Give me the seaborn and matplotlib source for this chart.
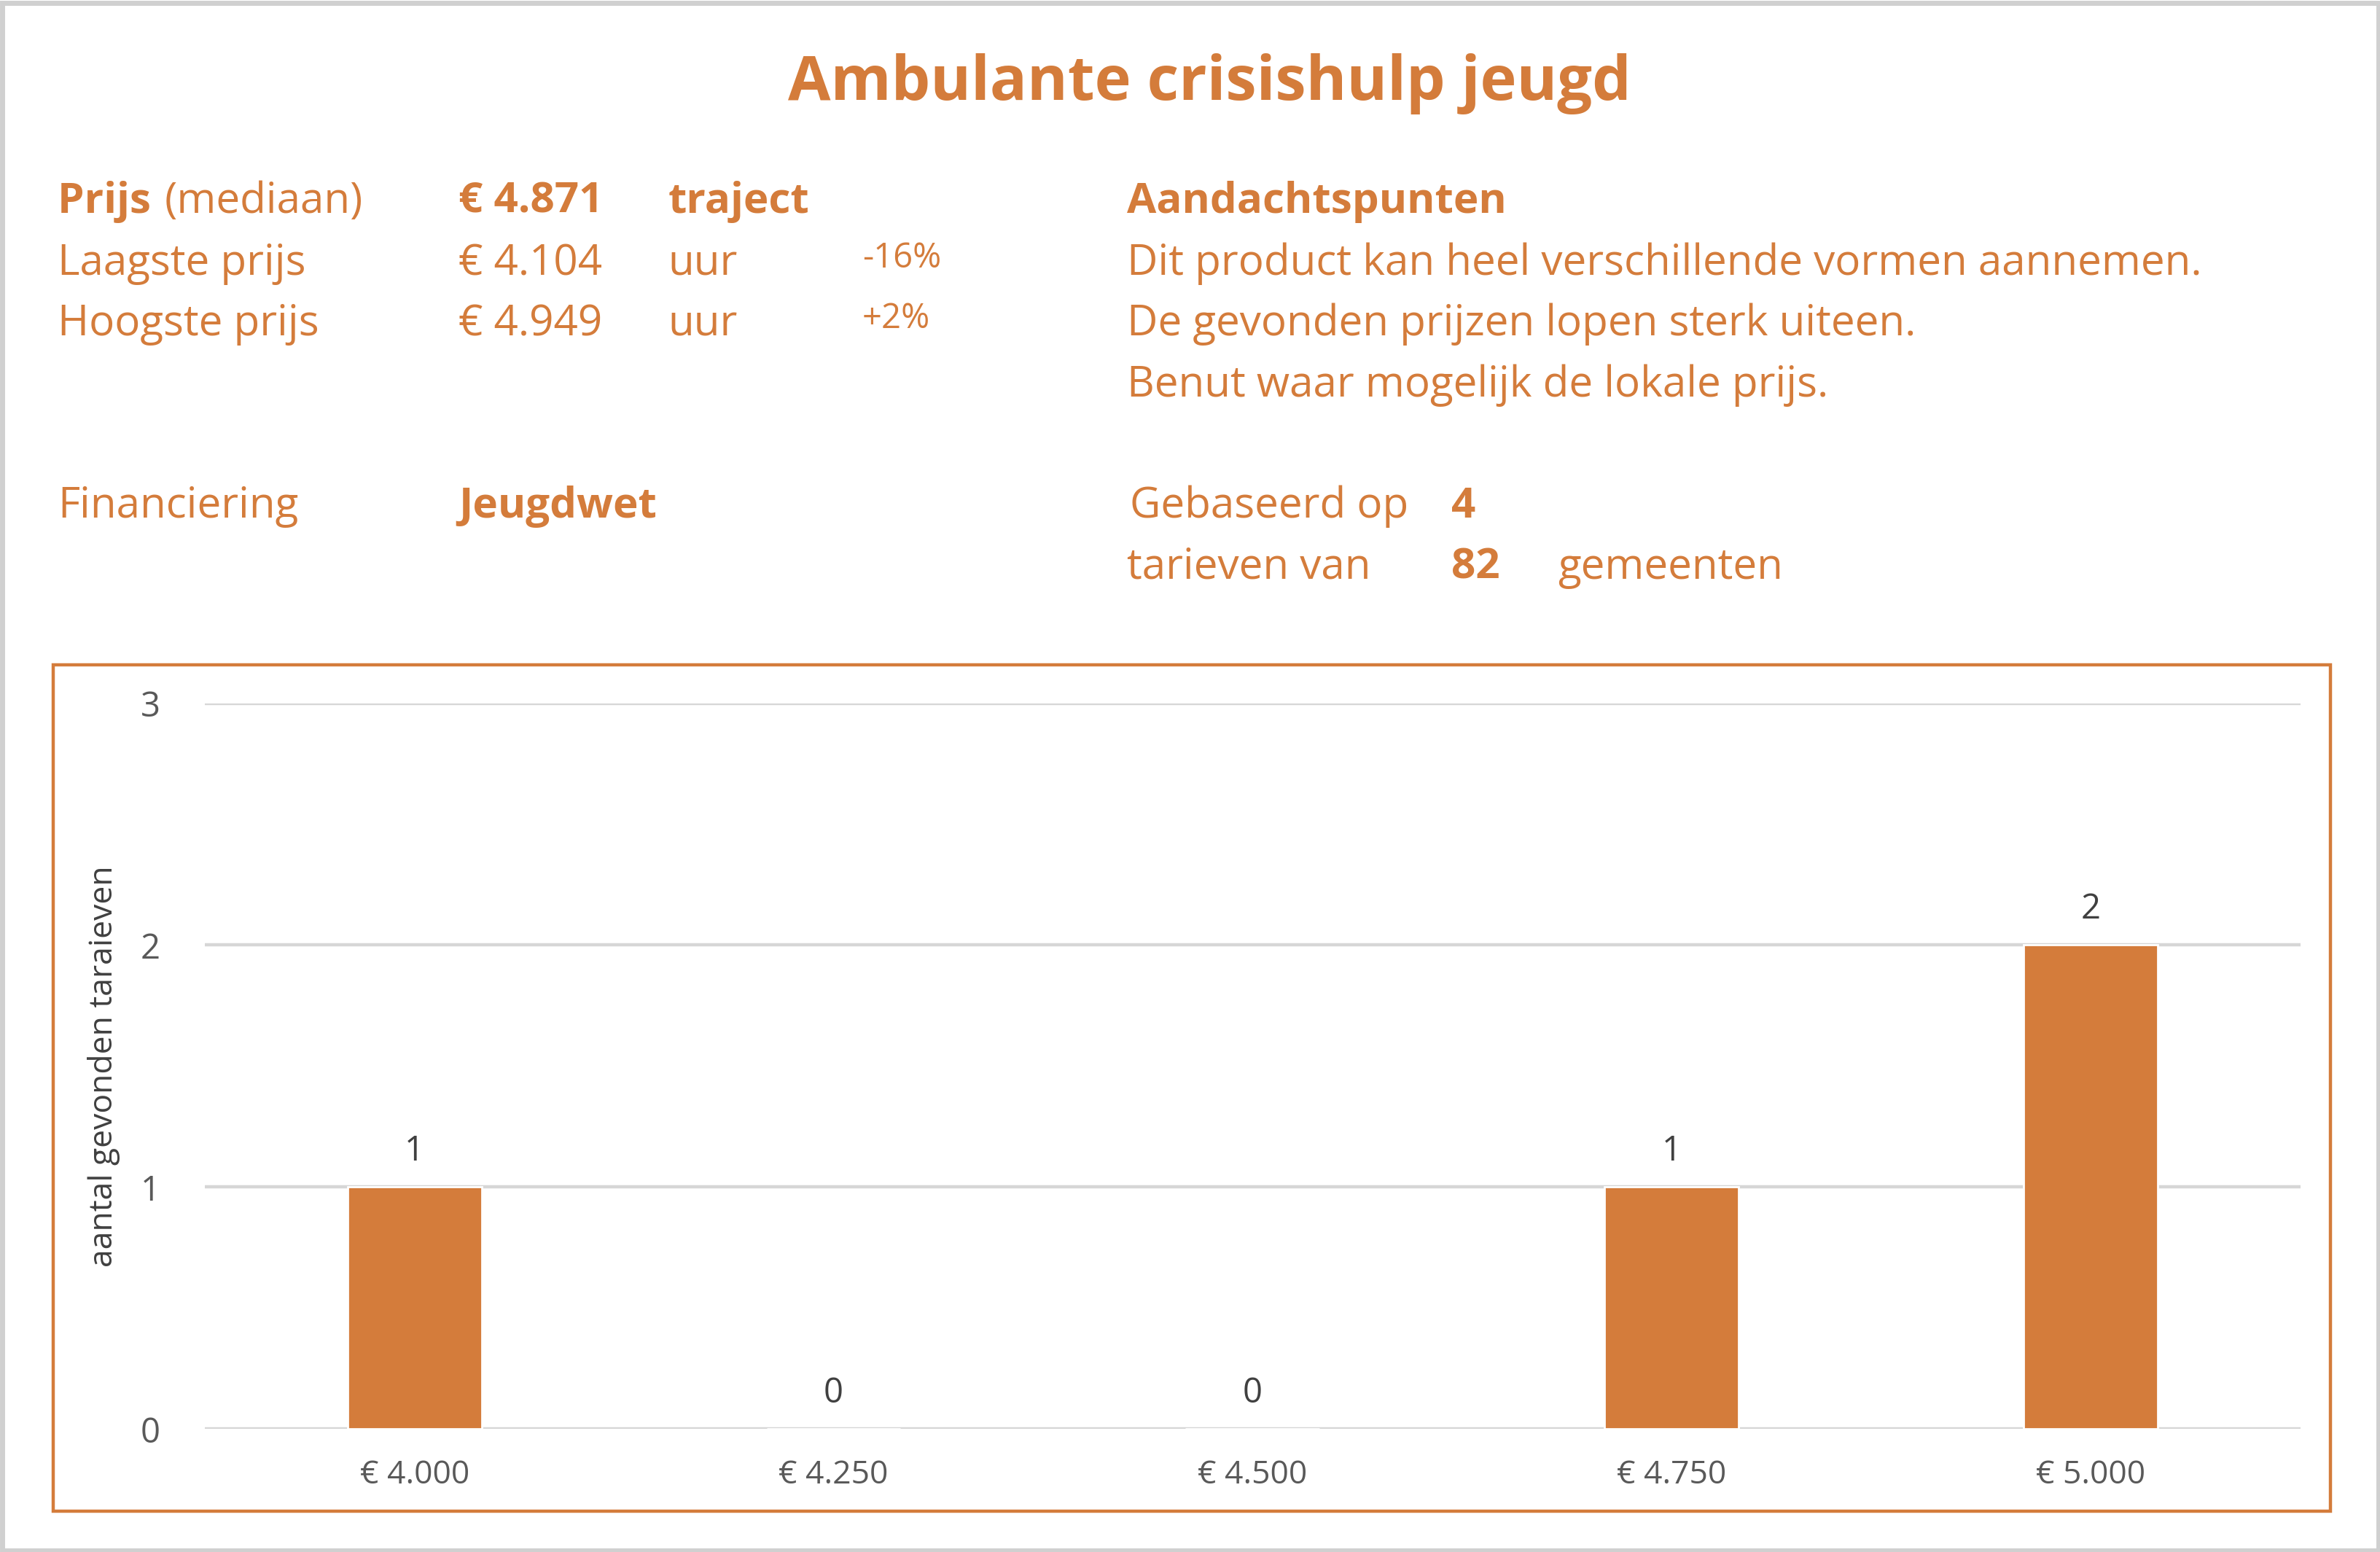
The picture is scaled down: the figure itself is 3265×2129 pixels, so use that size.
import matplotlib
matplotlib.use("Agg")
import matplotlib.pyplot as plt
import seaborn as sns
import pandas as pd
from matplotlib.patches import Rectangle

# ---- data ----
categories = ["€ 4.000", "€ 4.250", "€ 4.500", "€ 4.750", "€ 5.000"]
counts = [1, 0, 0, 1, 2]
y_ticks = [0, 1, 2, 3]

title = "Ambulante crisishulp jeugd"
price_labels = ["Prijs", "Laagste prijs", "Hoogste prijs"]
price_values = ["€ 4.871", "€ 4.104", "€ 4.949"]
price_units = ["traject", "uur", "uur"]
price_pcts = ["", "-16%", "+2%"]
notes = ["Dit product kan heel verschillende vormen aannemen.",
         "De gevonden prijzen lopen sterk uiteen.",
         "Benut waar mogelijk de lokale prijs."]
financing = "Jeugdwet"
n_rates = "4"
n_municipalities = "82"

ORANGE = "#D47C3B"
DARK = "#404040"
GRAY = "#595959"

sns.set_theme(style="white")
plt.rcParams['font.family'] = ['Open Sans', 'DejaVu Sans']

W, H = 3266, 2129
fig = plt.figure(figsize=(W / 200, H / 200), dpi=200)

TW, TH = 1568, 1022
def fx(x):
    return x / TW
def fy(y):
    return 1 - y / TH

# outer light gray frame
fig.patches.append(Rectangle((0.001, 0.001), 0.998, 0.997, transform=fig.transFigure,
                             fill=False, edgecolor="#D0D0D0", lw=2.5))
# orange chart frame
fig.patches.append(Rectangle((fx(35), fy(995)), fx(1535) - fx(35), fy(438) - fy(995),
                             transform=fig.transFigure, fill=False, edgecolor=ORANGE, lw=1.6))

# title
fig.text(0.508, fy(66), title, ha="center", va="baseline", fontsize=30.5,
         fontweight="bold", color=ORANGE)

fs = 21
rows = [140, 181, 221]
# first row label: bold "Prijs" + normal "(mediaan)"
t = fig.text(fx(38), fy(rows[0]), price_labels[0] + " ", ha="left", va="baseline",
             fontsize=fs, fontweight="bold", color=ORANGE)
fig.canvas.draw()
bb = t.get_window_extent().transformed(fig.transFigure.inverted())
fig.text(bb.x1 + 0.001, fy(rows[0]), "(mediaan)", ha="left", va="baseline",
         fontsize=fs, color=ORANGE)
for i in (1, 2):
    fig.text(fx(38), fy(rows[i]), price_labels[i], ha="left", va="baseline",
             fontsize=fs, color=ORANGE)
for i in range(3):
    w = "bold" if i == 0 else "normal"
    fig.text(fx(302), fy(rows[i]), price_values[i], ha="left", va="baseline",
             fontsize=fs, fontweight=w, color=ORANGE)
    fig.text(fx(440), fy(rows[i]), price_units[i], ha="left", va="baseline",
             fontsize=fs, fontweight=w, color=ORANGE)
    if price_pcts[i]:
        fig.text(fx(568), fy(rows[i] - 5), price_pcts[i], ha="left", va="baseline",
                 fontsize=17, color=ORANGE)

fig.text(fx(742), fy(140), "Aandachtspunten", ha="left", va="baseline",
         fontsize=fs, fontweight="bold", color=ORANGE)
for i, line in enumerate(notes):
    fig.text(fx(742), fy(181 + 40 * i), line, ha="left", va="baseline",
             fontsize=fs, color=ORANGE)

fig.text(fx(38), fy(341), "Financiering", ha="left", va="baseline", fontsize=fs, color=ORANGE)
fig.text(fx(302), fy(341), financing, ha="left", va="baseline", fontsize=fs,
         fontweight="bold", color=ORANGE)

fig.text(fx(744), fy(341), "Gebaseerd op", ha="left", va="baseline", fontsize=fs, color=ORANGE)
fig.text(fx(956), fy(341), n_rates, ha="left", va="baseline", fontsize=fs,
         fontweight="bold", color=ORANGE)
fig.text(fx(742), fy(381), "tarieven van", ha="left", va="baseline", fontsize=fs, color=ORANGE)
fig.text(fx(956), fy(381), n_municipalities, ha="left", va="baseline", fontsize=fs,
         fontweight="bold", color=ORANGE)
fig.text(fx(1026), fy(381), "gemeenten", ha="left", va="baseline", fontsize=fs, color=ORANGE)

# ---- chart ----
ax = fig.add_axes([fx(135), fy(941), fx(1515) - fx(135), fy(463) - fy(941)])
df = pd.DataFrame({"prijs": categories, "aantal": counts})
sns.barplot(data=df, x="prijs", y="aantal", color=ORANGE, saturation=1,
            width=0.32, ax=ax)
ax.set_xlim(-0.5, 4.5)
ax.set_ylim(0, 3)
ax.set_yticks(y_ticks)
ax.grid(axis="y", color="#D6D6D6", lw=1.6)
ax.set_axisbelow(True)
for s in ax.spines.values():
    s.set_visible(False)
ax.tick_params(axis="both", length=0, colors=GRAY, labelcolor=GRAY)
ax.tick_params(axis="x", pad=15, labelsize=16)
ax.tick_params(axis="y", pad=22, labelsize=17)
ax.set_xlabel("")
ax.set_ylabel("aantal gevonden taraieven", fontsize=16, color=DARK, labelpad=10)
for c in ax.containers:
    ax.bar_label(c, labels=[str(v) for v in counts], padding=9, fontsize=17, color=DARK)

fig.savefig("out.png", dpi=200)
